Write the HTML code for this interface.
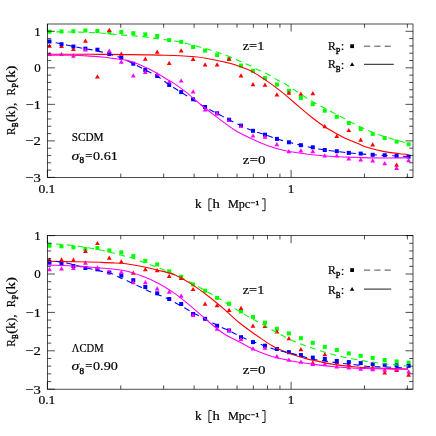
<!DOCTYPE html><html><head><meta charset="utf-8"><style>html,body{margin:0;padding:0;background:#fff}svg{display:block;will-change:transform}text{stroke:#000;stroke-width:.2px}</style></head><body><svg width="436" height="436" viewBox="0 0 436 436" font-family="Liberation Serif, serif" font-size="13" fill="#000" stroke="none">
<defs><clipPath id="clip1"><rect x="47.4" y="24.0" width="365.6" height="153.4"/></clipPath><clipPath id="clip2"><rect x="47.4" y="235.6" width="365.6" height="153.6"/></clipPath></defs>
<rect width="436" height="436" fill="#fff"/>
<g clip-path="url(#clip1)">
<g fill="#0f0"><rect x="47.5" y="29.7" width="4.0" height="4.0"/><rect x="59.5" y="29.5" width="4.0" height="4.0"/><rect x="71.4" y="29.3" width="4.0" height="4.0"/><rect x="83.4" y="28.5" width="4.0" height="4.0"/><rect x="95.4" y="29.0" width="4.0" height="4.0"/><rect x="107.3" y="30.4" width="4.0" height="4.0"/><rect x="119.3" y="30.0" width="4.0" height="4.0"/><rect x="131.3" y="31.2" width="4.0" height="4.0"/><rect x="143.3" y="32.4" width="4.0" height="4.0"/><rect x="155.2" y="34.0" width="4.0" height="4.0"/><rect x="167.2" y="38.1" width="4.0" height="4.0"/><rect x="179.2" y="39.8" width="4.0" height="4.0"/><rect x="191.1" y="45.0" width="4.0" height="4.0"/><rect x="203.1" y="48.6" width="4.0" height="4.0"/><rect x="215.1" y="53.1" width="4.0" height="4.0"/><rect x="227.1" y="57.1" width="4.0" height="4.0"/><rect x="239.0" y="63.6" width="4.0" height="4.0"/><rect x="251.0" y="68.9" width="4.0" height="4.0"/><rect x="263.0" y="76.1" width="4.0" height="4.0"/><rect x="274.9" y="82.5" width="4.0" height="4.0"/><rect x="286.9" y="88.9" width="4.0" height="4.0"/><rect x="298.9" y="96.0" width="4.0" height="4.0"/><rect x="310.8" y="102.2" width="4.0" height="4.0"/><rect x="322.8" y="108.7" width="4.0" height="4.0"/><rect x="334.8" y="114.8" width="4.0" height="4.0"/><rect x="346.8" y="121.0" width="4.0" height="4.0"/><rect x="358.7" y="127.0" width="4.0" height="4.0"/><rect x="370.7" y="131.9" width="4.0" height="4.0"/><rect x="382.7" y="136.0" width="4.0" height="4.0"/><rect x="394.6" y="139.6" width="4.0" height="4.0"/><rect x="406.6" y="142.3" width="4.0" height="4.0"/></g>
<g fill="#f00"><path d="M49.5 43.5 l2.4 4.2 h-4.8 z"/><path d="M61.5 43.8 l2.4 4.2 h-4.8 z"/><path d="M73.4 46.8 l2.4 4.2 h-4.8 z"/><path d="M85.4 38.6 l2.4 4.2 h-4.8 z"/><path d="M97.4 74.3 l2.4 4.2 h-4.8 z"/><path d="M109.3 27.8 l2.4 4.2 h-4.8 z"/><path d="M121.3 51.5 l2.4 4.2 h-4.8 z"/><path d="M145.3 56.5 l2.4 4.2 h-4.8 z"/><path d="M157.2 49.6 l2.4 4.2 h-4.8 z"/><path d="M169.2 60.8 l2.4 4.2 h-4.8 z"/><path d="M181.2 48.2 l2.4 4.2 h-4.8 z"/><path d="M193.1 56.8 l2.4 4.2 h-4.8 z"/><path d="M205.1 62.3 l2.4 4.2 h-4.8 z"/><path d="M217.1 62.3 l2.4 4.2 h-4.8 z"/><path d="M229.1 56.6 l2.4 4.2 h-4.8 z"/><path d="M241.0 73.2 l2.4 4.2 h-4.8 z"/><path d="M253.0 82.1 l2.4 4.2 h-4.8 z"/><path d="M265.0 82.5 l2.4 4.2 h-4.8 z"/><path d="M276.9 92.2 l2.4 4.2 h-4.8 z"/><path d="M288.9 90.5 l2.4 4.2 h-4.8 z"/><path d="M300.9 91.6 l2.4 4.2 h-4.8 z"/><path d="M312.8 91.0 l2.4 4.2 h-4.8 z"/><path d="M324.8 124.0 l2.4 4.2 h-4.8 z"/><path d="M336.8 133.7 l2.4 4.2 h-4.8 z"/><path d="M348.8 127.9 l2.4 4.2 h-4.8 z"/><path d="M360.7 137.5 l2.4 4.2 h-4.8 z"/><path d="M372.7 142.3 l2.4 4.2 h-4.8 z"/><path d="M396.6 162.5 l2.4 4.2 h-4.8 z"/></g>
<g fill="#00f"><rect x="47.5" y="39.5" width="4.0" height="4.0"/><rect x="59.5" y="42.2" width="4.0" height="4.0"/><rect x="71.4" y="44.5" width="4.0" height="4.0"/><rect x="83.4" y="46.6" width="4.0" height="4.0"/><rect x="95.4" y="47.7" width="4.0" height="4.0"/><rect x="107.3" y="52.0" width="4.0" height="4.0"/><rect x="119.3" y="56.0" width="4.0" height="4.0"/><rect x="131.3" y="61.7" width="4.0" height="4.0"/><rect x="143.3" y="68.0" width="4.0" height="4.0"/><rect x="155.2" y="74.0" width="4.0" height="4.0"/><rect x="167.2" y="83.0" width="4.0" height="4.0"/><rect x="179.2" y="90.1" width="4.0" height="4.0"/><rect x="191.1" y="97.3" width="4.0" height="4.0"/><rect x="203.1" y="105.0" width="4.0" height="4.0"/><rect x="215.1" y="111.3" width="4.0" height="4.0"/><rect x="227.1" y="117.7" width="4.0" height="4.0"/><rect x="239.0" y="123.6" width="4.0" height="4.0"/><rect x="251.0" y="128.8" width="4.0" height="4.0"/><rect x="263.0" y="132.7" width="4.0" height="4.0"/><rect x="274.9" y="136.9" width="4.0" height="4.0"/><rect x="286.9" y="140.3" width="4.0" height="4.0"/><rect x="298.9" y="143.2" width="4.0" height="4.0"/><rect x="310.8" y="145.3" width="4.0" height="4.0"/><rect x="322.8" y="148.0" width="4.0" height="4.0"/><rect x="334.8" y="149.2" width="4.0" height="4.0"/><rect x="346.8" y="150.9" width="4.0" height="4.0"/><rect x="358.7" y="151.6" width="4.0" height="4.0"/><rect x="370.7" y="152.8" width="4.0" height="4.0"/><rect x="382.7" y="153.2" width="4.0" height="4.0"/><rect x="394.6" y="154.0" width="4.0" height="4.0"/><rect x="406.6" y="154.6" width="4.0" height="4.0"/></g>
<g fill="#f0f"><path d="M49.5 51.9 l2.4 4.2 h-4.8 z"/><path d="M61.5 51.9 l2.4 4.2 h-4.8 z"/><path d="M73.4 53.6 l2.4 4.2 h-4.8 z"/><path d="M85.4 47.3 l2.4 4.2 h-4.8 z"/><path d="M109.3 48.5 l2.4 4.2 h-4.8 z"/><path d="M121.3 59.5 l2.4 4.2 h-4.8 z"/><path d="M133.3 73.3 l2.4 4.2 h-4.8 z"/><path d="M145.3 69.7 l2.4 4.2 h-4.8 z"/><path d="M157.2 72.1 l2.4 4.2 h-4.8 z"/><path d="M169.2 79.4 l2.4 4.2 h-4.8 z"/><path d="M181.2 78.4 l2.4 4.2 h-4.8 z"/><path d="M193.1 89.3 l2.4 4.2 h-4.8 z"/><path d="M205.1 107.3 l2.4 4.2 h-4.8 z"/><path d="M217.1 111.1 l2.4 4.2 h-4.8 z"/><path d="M229.1 117.5 l2.4 4.2 h-4.8 z"/><path d="M241.0 123.3 l2.4 4.2 h-4.8 z"/><path d="M253.0 133.4 l2.4 4.2 h-4.8 z"/><path d="M265.0 134.5 l2.4 4.2 h-4.8 z"/><path d="M276.9 142.1 l2.4 4.2 h-4.8 z"/><path d="M288.9 149.0 l2.4 4.2 h-4.8 z"/><path d="M300.9 148.3 l2.4 4.2 h-4.8 z"/><path d="M312.8 149.0 l2.4 4.2 h-4.8 z"/><path d="M324.8 153.2 l2.4 4.2 h-4.8 z"/><path d="M336.8 153.2 l2.4 4.2 h-4.8 z"/><path d="M348.8 156.2 l2.4 4.2 h-4.8 z"/><path d="M360.7 157.3 l2.4 4.2 h-4.8 z"/><path d="M372.7 158.3 l2.4 4.2 h-4.8 z"/><path d="M384.7 161.1 l2.4 4.2 h-4.8 z"/><path d="M396.6 165.8 l2.4 4.2 h-4.8 z"/><path d="M408.6 158.1 l2.4 4.2 h-4.8 z"/></g>
<path d="M47.4 31.8C51.2 31.8 62.9 31.9 70.0 32.0C77.1 32.1 85.0 32.3 90.0 32.5C95.0 32.7 96.3 32.7 100.0 33.0C103.7 33.3 108.5 33.8 112.0 34.1C115.5 34.4 117.8 34.6 121.0 34.9C124.2 35.2 127.5 35.4 131.0 35.7C134.5 36.0 138.5 36.2 142.0 36.6C145.5 37.0 148.7 37.5 152.0 38.0C155.3 38.5 158.2 38.8 162.0 39.3C165.8 39.8 170.8 40.3 175.0 41.0C179.2 41.7 183.2 42.7 187.3 43.7C191.4 44.7 195.7 45.9 199.6 47.0C203.5 48.1 207.2 49.1 210.9 50.2C214.7 51.4 218.4 52.5 222.1 53.9C225.8 55.2 230.3 57.1 233.3 58.3C236.3 59.5 237.3 60.0 240.1 61.2C242.9 62.4 246.7 64.1 249.9 65.6C253.1 67.1 256.3 68.9 259.4 70.4C262.5 71.9 265.4 73.0 268.4 74.6C271.3 76.1 274.2 78.0 277.1 79.7C280.0 81.4 283.0 82.7 286.0 84.5C289.0 86.3 290.8 87.7 295.0 90.4C299.2 93.1 305.6 97.5 311.0 100.7C316.4 103.9 321.7 106.5 327.1 109.4C332.5 112.3 338.3 115.3 343.2 117.9C348.1 120.5 352.6 122.9 356.7 125.0C360.8 127.1 364.2 128.8 368.0 130.4C371.8 132.1 375.1 133.3 379.7 134.9C384.2 136.5 390.5 138.4 395.3 139.8C400.1 141.2 406.4 142.9 408.6 143.5" fill="none" stroke="#0f0" stroke-width="1.10" stroke-dasharray="6.1 4.64" stroke-dashoffset="1.5"/>
<path d="M47.4 54.2C54.5 54.2 76.2 54.2 90.0 54.3C103.8 54.4 120.0 54.5 130.0 54.6C140.0 54.7 144.2 54.8 150.0 54.9C155.8 55.0 160.0 55.1 165.0 55.3C170.0 55.4 175.0 55.5 180.0 55.8C185.0 56.0 190.7 56.4 195.0 56.8C199.3 57.2 201.5 57.5 206.0 58.3C210.5 59.1 217.3 60.4 222.1 61.5C226.9 62.6 230.2 63.2 235.0 64.8C239.8 66.4 245.7 68.2 251.0 70.9C256.4 73.6 261.7 77.4 267.1 81.1C272.5 84.8 277.9 88.8 283.2 93.1C288.5 97.4 294.6 103.0 299.2 106.9C303.8 110.8 306.4 113.1 311.0 116.7C315.6 120.3 321.7 124.9 327.1 128.3C332.5 131.7 337.9 134.6 343.2 137.2C348.5 139.8 355.4 142.4 359.2 144.1C363.0 145.8 362.2 145.9 366.0 147.1C369.8 148.3 376.7 150.0 382.1 151.1C387.5 152.2 393.8 152.9 398.2 153.5C402.6 154.1 406.9 154.3 408.6 154.5" fill="none" stroke="#f00" stroke-width="1.10"/>
<path d="M47.4 41.3C49.7 41.7 56.7 42.9 61.0 43.8C65.3 44.6 69.0 45.6 73.0 46.4C77.0 47.2 81.0 48.0 85.0 48.7C89.0 49.4 93.0 49.9 97.0 50.8C101.0 51.7 105.0 52.7 109.0 53.9C113.0 55.1 117.0 56.2 121.0 57.8C125.0 59.4 129.0 61.6 133.0 63.6C137.0 65.6 141.0 67.7 145.0 69.8C149.0 71.9 153.0 73.5 157.0 76.0C161.0 78.5 165.0 81.8 169.0 84.5C173.0 87.2 177.0 89.7 181.0 92.2C185.0 94.7 189.0 97.1 193.0 99.6C197.0 102.1 201.0 104.9 205.0 107.2C209.0 109.5 213.0 111.2 217.0 113.3C221.0 115.4 225.0 117.8 229.0 119.8C233.0 121.8 237.0 123.8 241.0 125.6C245.0 127.4 249.0 129.3 253.0 130.8C257.0 132.3 261.0 133.3 265.0 134.7C269.0 136.0 273.0 137.6 277.0 138.9C281.0 140.2 285.0 141.2 289.0 142.3C293.0 143.4 295.7 144.0 301.0 145.2C306.3 146.4 313.5 148.1 320.6 149.3C327.7 150.5 335.5 151.4 343.5 152.3C351.5 153.2 357.9 153.8 368.8 154.5C379.7 155.2 402.0 156.2 408.6 156.5" fill="none" stroke="#00f" stroke-width="1.10" stroke-dasharray="6 4.6" stroke-dashoffset="2.3"/>
<path d="M47.4 55.1C51.2 55.1 62.9 55.1 70.0 55.3C77.1 55.5 84.2 55.8 90.0 56.1C95.8 56.4 101.2 56.9 105.0 57.3C108.8 57.7 109.3 57.9 112.8 58.4C116.3 58.9 122.5 59.4 126.0 60.1C129.5 60.8 131.3 61.7 134.0 62.6C136.7 63.5 139.3 64.5 142.0 65.7C144.7 66.9 147.3 68.2 150.0 69.5C152.7 70.8 155.3 72.2 158.0 73.8C160.7 75.3 163.3 77.2 166.0 78.8C168.7 80.4 170.7 81.2 174.0 83.4C177.3 85.6 181.3 88.4 186.0 92.1C190.7 95.8 196.7 101.4 202.1 105.7C207.5 110.0 212.7 114.0 218.2 118.1C223.7 122.2 229.5 126.8 235.0 130.2C240.5 133.6 245.7 136.0 251.0 138.5C256.4 141.0 261.7 143.5 267.1 145.4C272.5 147.3 277.9 148.9 283.2 150.2C288.5 151.5 293.1 152.1 299.2 153.0C305.3 153.9 313.4 154.9 320.0 155.5C326.6 156.1 332.0 156.5 339.0 156.8C346.0 157.2 354.3 157.4 361.9 157.6C369.5 157.8 377.0 158.0 384.8 158.0C392.6 158.0 404.6 157.7 408.6 157.6" fill="none" stroke="#f0f" stroke-width="1.10"/>
</g>
<path d="M47.4 177.40h7.5M413.0 177.40h-7.5M47.4 170.10h3.8M413.0 170.10h-3.8M47.4 162.79h3.8M413.0 162.79h-3.8M47.4 155.49h3.8M413.0 155.49h-3.8M47.4 148.18h3.8M413.0 148.18h-3.8M47.4 140.88h7.5M413.0 140.88h-7.5M47.4 133.57h3.8M413.0 133.57h-3.8M47.4 126.27h3.8M413.0 126.27h-3.8M47.4 118.96h3.8M413.0 118.96h-3.8M47.4 111.66h3.8M413.0 111.66h-3.8M47.4 104.35h7.5M413.0 104.35h-7.5M47.4 97.05h3.8M413.0 97.05h-3.8M47.4 89.74h3.8M413.0 89.74h-3.8M47.4 82.44h3.8M413.0 82.44h-3.8M47.4 75.13h3.8M413.0 75.13h-3.8M47.4 67.83h7.5M413.0 67.83h-7.5M47.4 60.52h3.8M413.0 60.52h-3.8M47.4 53.22h3.8M413.0 53.22h-3.8M47.4 45.91h3.8M413.0 45.91h-3.8M47.4 38.61h3.8M413.0 38.61h-3.8M47.4 31.30h7.5M413.0 31.30h-7.5M47.40 177.4v-7.5M47.40 24.0v7.5M120.76 177.4v-3.8M120.76 24.0v3.8M163.67 177.4v-3.8M163.67 24.0v3.8M194.12 177.4v-3.8M194.12 24.0v3.8M217.74 177.4v-3.8M217.74 24.0v3.8M237.04 177.4v-3.8M237.04 24.0v3.8M253.35 177.4v-3.8M253.35 24.0v3.8M267.48 177.4v-3.8M267.48 24.0v3.8M279.95 177.4v-3.8M279.95 24.0v3.8M291.10 177.4v-7.5M291.10 24.0v7.5M364.46 177.4v-3.8M364.46 24.0v3.8M407.37 177.4v-3.8M407.37 24.0v3.8" stroke="#000" stroke-width="0.7" fill="none"/>
<rect x="47.4" y="24.0" width="365.6" height="153.4" fill="none" stroke="#000" stroke-width="0.7"/>
<text x="40.8" y="35.7" text-anchor="end">1</text><text x="40.8" y="72.2" text-anchor="end">0</text><text x="40.8" y="108.7" textLength="15.2" lengthAdjust="spacingAndGlyphs" text-anchor="end">−1</text><text x="40.8" y="145.2" textLength="15.6" lengthAdjust="spacingAndGlyphs" text-anchor="end">−2</text><text x="40.8" y="181.8" textLength="15.6" lengthAdjust="spacingAndGlyphs" text-anchor="end">−3</text><text x="38.4" y="192.6" textLength="17.0" lengthAdjust="spacingAndGlyphs">0.1</text><text x="287.8" y="192.6">1</text><text x="195.0" y="208.4" textLength="6.6" lengthAdjust="spacingAndGlyphs">k</text><text x="212.6" y="208.4" textLength="7.3" lengthAdjust="spacingAndGlyphs">h</text><text x="227.9" y="208.4" textLength="22.4" lengthAdjust="spacingAndGlyphs">Mpc</text><text x="250.7" y="204.8" textLength="8.8" lengthAdjust="spacingAndGlyphs" font-size="6.5" style="stroke-width:.4px">−1</text><path d="M211.9 198.8H208.9V210.7H211.9M262.0 198.8H265.0V210.7H262.0" fill="none" stroke="#000" stroke-width="0.9"/><g transform="translate(14.8,100.7) rotate(-90)"><text x="-34.3" y="0.0" textLength="7.6" lengthAdjust="spacingAndGlyphs">R</text><text x="-26.6" y="3.1" textLength="4.8" lengthAdjust="spacingAndGlyphs" font-size="8.5" style="stroke-width:.4px">B</text><text x="-21.3" y="0.0" textLength="19.5" lengthAdjust="spacingAndGlyphs">(k),</text><text x="5.2" y="0.0" textLength="7.6" lengthAdjust="spacingAndGlyphs">R</text><text x="12.9" y="3.1" textLength="4.6" lengthAdjust="spacingAndGlyphs" font-size="8.5" style="stroke-width:.4px">P</text><text x="18.0" y="0.0" textLength="17.2" lengthAdjust="spacingAndGlyphs">(k)</text></g>
<g clip-path="url(#clip2)">
<g fill="#0f0"><rect x="47.5" y="243.7" width="4.0" height="4.0"/><rect x="59.5" y="244.3" width="4.0" height="4.0"/><rect x="71.4" y="245.4" width="4.0" height="4.0"/><rect x="83.4" y="247.0" width="4.0" height="4.0"/><rect x="95.4" y="246.0" width="4.0" height="4.0"/><rect x="107.3" y="248.4" width="4.0" height="4.0"/><rect x="119.3" y="250.4" width="4.0" height="4.0"/><rect x="131.3" y="254.1" width="4.0" height="4.0"/><rect x="143.3" y="258.9" width="4.0" height="4.0"/><rect x="155.2" y="262.4" width="4.0" height="4.0"/><rect x="167.2" y="269.4" width="4.0" height="4.0"/><rect x="179.2" y="274.7" width="4.0" height="4.0"/><rect x="191.1" y="282.5" width="4.0" height="4.0"/><rect x="203.1" y="288.7" width="4.0" height="4.0"/><rect x="215.1" y="295.9" width="4.0" height="4.0"/><rect x="227.1" y="301.6" width="4.0" height="4.0"/><rect x="239.0" y="309.4" width="4.0" height="4.0"/><rect x="251.0" y="314.9" width="4.0" height="4.0"/><rect x="263.0" y="320.6" width="4.0" height="4.0"/><rect x="274.9" y="326.8" width="4.0" height="4.0"/><rect x="286.9" y="331.4" width="4.0" height="4.0"/><rect x="298.9" y="336.2" width="4.0" height="4.0"/><rect x="310.8" y="340.8" width="4.0" height="4.0"/><rect x="322.8" y="344.9" width="4.0" height="4.0"/><rect x="334.8" y="348.0" width="4.0" height="4.0"/><rect x="346.8" y="351.4" width="4.0" height="4.0"/><rect x="358.7" y="353.8" width="4.0" height="4.0"/><rect x="370.7" y="355.9" width="4.0" height="4.0"/><rect x="382.7" y="358.0" width="4.0" height="4.0"/><rect x="394.6" y="359.4" width="4.0" height="4.0"/><rect x="406.6" y="360.6" width="4.0" height="4.0"/></g>
<g fill="#f00"><path d="M49.5 257.5 l2.4 4.2 h-4.8 z"/><path d="M61.5 257.3 l2.4 4.2 h-4.8 z"/><path d="M73.4 257.5 l2.4 4.2 h-4.8 z"/><path d="M85.4 248.8 l2.4 4.2 h-4.8 z"/><path d="M97.4 240.9 l2.4 4.2 h-4.8 z"/><path d="M109.3 255.5 l2.4 4.2 h-4.8 z"/><path d="M121.3 259.2 l2.4 4.2 h-4.8 z"/><path d="M133.3 270.5 l2.4 4.2 h-4.8 z"/><path d="M145.3 267.1 l2.4 4.2 h-4.8 z"/><path d="M157.2 268.0 l2.4 4.2 h-4.8 z"/><path d="M169.2 273.7 l2.4 4.2 h-4.8 z"/><path d="M181.2 275.7 l2.4 4.2 h-4.8 z"/><path d="M193.1 286.9 l2.4 4.2 h-4.8 z"/><path d="M205.1 301.5 l2.4 4.2 h-4.8 z"/><path d="M217.1 303.0 l2.4 4.2 h-4.8 z"/><path d="M229.1 307.8 l2.4 4.2 h-4.8 z"/><path d="M241.0 305.8 l2.4 4.2 h-4.8 z"/><path d="M253.0 323.5 l2.4 4.2 h-4.8 z"/><path d="M265.0 323.7 l2.4 4.2 h-4.8 z"/><path d="M276.9 329.3 l2.4 4.2 h-4.8 z"/><path d="M288.9 336.0 l2.4 4.2 h-4.8 z"/><path d="M300.9 347.1 l2.4 4.2 h-4.8 z"/><path d="M312.8 360.2 l2.4 4.2 h-4.8 z"/><path d="M324.8 352.0 l2.4 4.2 h-4.8 z"/><path d="M336.8 360.0 l2.4 4.2 h-4.8 z"/><path d="M348.8 362.0 l2.4 4.2 h-4.8 z"/><path d="M372.7 365.5 l2.4 4.2 h-4.8 z"/><path d="M384.7 370.2 l2.4 4.2 h-4.8 z"/><path d="M396.6 367.9 l2.4 4.2 h-4.8 z"/><path d="M408.6 372.5 l2.4 4.2 h-4.8 z"/></g>
<g fill="#00f"><rect x="47.5" y="260.7" width="4.0" height="4.0"/><rect x="59.5" y="261.7" width="4.0" height="4.0"/><rect x="71.4" y="264.0" width="4.0" height="4.0"/><rect x="83.4" y="266.0" width="4.0" height="4.0"/><rect x="95.4" y="267.3" width="4.0" height="4.0"/><rect x="107.3" y="270.5" width="4.0" height="4.0"/><rect x="119.3" y="273.6" width="4.0" height="4.0"/><rect x="131.3" y="278.2" width="4.0" height="4.0"/><rect x="143.3" y="285.0" width="4.0" height="4.0"/><rect x="155.2" y="291.3" width="4.0" height="4.0"/><rect x="167.2" y="297.0" width="4.0" height="4.0"/><rect x="179.2" y="302.0" width="4.0" height="4.0"/><rect x="191.1" y="312.0" width="4.0" height="4.0"/><rect x="203.1" y="316.8" width="4.0" height="4.0"/><rect x="215.1" y="323.8" width="4.0" height="4.0"/><rect x="227.1" y="328.5" width="4.0" height="4.0"/><rect x="239.0" y="335.2" width="4.0" height="4.0"/><rect x="251.0" y="340.1" width="4.0" height="4.0"/><rect x="263.0" y="343.7" width="4.0" height="4.0"/><rect x="274.9" y="347.0" width="4.0" height="4.0"/><rect x="286.9" y="350.2" width="4.0" height="4.0"/><rect x="298.9" y="353.1" width="4.0" height="4.0"/><rect x="310.8" y="355.6" width="4.0" height="4.0"/><rect x="322.8" y="357.0" width="4.0" height="4.0"/><rect x="334.8" y="358.9" width="4.0" height="4.0"/><rect x="346.8" y="360.1" width="4.0" height="4.0"/><rect x="358.7" y="361.1" width="4.0" height="4.0"/><rect x="370.7" y="362.3" width="4.0" height="4.0"/><rect x="382.7" y="362.8" width="4.0" height="4.0"/><rect x="394.6" y="363.4" width="4.0" height="4.0"/><rect x="406.6" y="363.9" width="4.0" height="4.0"/></g>
<g fill="#f0f"><path d="M49.5 267.0 l2.4 4.2 h-4.8 z"/><path d="M61.5 266.3 l2.4 4.2 h-4.8 z"/><path d="M73.4 265.9 l2.4 4.2 h-4.8 z"/><path d="M85.4 260.5 l2.4 4.2 h-4.8 z"/><path d="M97.4 265.3 l2.4 4.2 h-4.8 z"/><path d="M109.3 269.8 l2.4 4.2 h-4.8 z"/><path d="M121.3 269.7 l2.4 4.2 h-4.8 z"/><path d="M133.3 280.0 l2.4 4.2 h-4.8 z"/><path d="M145.3 280.0 l2.4 4.2 h-4.8 z"/><path d="M157.2 286.2 l2.4 4.2 h-4.8 z"/><path d="M169.2 289.6 l2.4 4.2 h-4.8 z"/><path d="M181.2 293.5 l2.4 4.2 h-4.8 z"/><path d="M193.1 312.8 l2.4 4.2 h-4.8 z"/><path d="M217.1 326.5 l2.4 4.2 h-4.8 z"/><path d="M229.1 327.9 l2.4 4.2 h-4.8 z"/><path d="M241.0 336.8 l2.4 4.2 h-4.8 z"/><path d="M253.0 346.3 l2.4 4.2 h-4.8 z"/><path d="M265.0 345.6 l2.4 4.2 h-4.8 z"/><path d="M276.9 354.0 l2.4 4.2 h-4.8 z"/><path d="M288.9 357.5 l2.4 4.2 h-4.8 z"/><path d="M300.9 359.5 l2.4 4.2 h-4.8 z"/><path d="M312.8 361.9 l2.4 4.2 h-4.8 z"/><path d="M324.8 361.5 l2.4 4.2 h-4.8 z"/><path d="M336.8 364.3 l2.4 4.2 h-4.8 z"/><path d="M348.8 365.3 l2.4 4.2 h-4.8 z"/><path d="M360.7 366.5 l2.4 4.2 h-4.8 z"/><path d="M372.7 367.0 l2.4 4.2 h-4.8 z"/><path d="M384.7 367.5 l2.4 4.2 h-4.8 z"/><path d="M396.6 366.7 l2.4 4.2 h-4.8 z"/><path d="M408.6 369.3 l2.4 4.2 h-4.8 z"/></g>
<path d="M47.4 243.1C48.4 243.2 51.6 243.4 53.6 243.6C55.6 243.8 56.8 243.9 59.6 244.2C62.4 244.5 67.0 244.8 70.5 245.2C74.0 245.6 77.1 246.0 80.5 246.5C83.9 247.0 87.5 247.7 91.0 248.3C94.5 248.9 98.3 249.6 101.8 250.3C105.3 251.0 108.8 251.9 112.0 252.7C115.2 253.5 117.8 254.4 121.3 255.3C124.8 256.2 129.3 257.1 133.3 258.4C137.3 259.7 141.3 261.5 145.3 263.0C149.3 264.5 153.2 265.8 157.2 267.3C161.2 268.8 165.6 270.6 169.2 272.1C172.8 273.7 175.5 275.0 179.0 276.6C182.5 278.2 186.3 280.1 190.0 282.0C193.7 283.9 197.0 285.9 201.0 288.2C205.0 290.4 210.1 293.4 213.8 295.5C217.5 297.6 219.5 298.8 223.2 301.1C226.8 303.4 231.4 306.5 235.7 309.1C240.0 311.7 245.0 314.7 248.8 316.9C252.6 319.1 255.2 320.3 258.5 322.2C261.9 324.1 265.6 326.2 268.9 328.1C272.2 330.0 275.1 331.6 278.5 333.4C281.9 335.2 285.0 337.1 289.0 339.0C293.0 340.9 298.5 343.1 302.4 344.6C306.3 346.1 309.0 347.0 312.5 348.2C316.0 349.4 319.8 350.7 323.3 351.8C326.8 352.9 330.2 353.8 333.7 354.7C337.2 355.6 340.6 356.4 344.1 357.2C347.6 357.9 351.4 358.5 354.9 359.2C358.4 359.9 361.9 360.6 365.0 361.1C368.1 361.6 370.4 361.8 373.3 362.2C376.2 362.6 378.8 363.1 382.1 363.5C385.4 363.9 388.7 364.2 393.0 364.6C397.3 365.0 405.5 365.8 408.0 366.0" fill="none" stroke="#0f0" stroke-width="1.10" stroke-dasharray="6.05 4.59" stroke-dashoffset="1.5"/>
<path d="M47.4 261.3C52.2 261.4 67.2 261.6 76.0 261.8C84.8 262.0 93.7 262.1 100.0 262.3C106.3 262.5 109.7 262.6 114.0 262.9C118.3 263.1 121.3 263.2 126.0 263.8C130.7 264.4 136.7 265.4 142.1 266.5C147.5 267.6 152.7 268.8 158.2 270.2C163.7 271.6 169.5 272.7 175.0 275.0C180.5 277.3 185.7 280.5 191.0 283.9C196.3 287.3 201.7 291.1 207.1 295.2C212.5 299.3 217.7 303.6 223.2 308.3C228.7 313.0 234.5 318.9 240.0 323.3C245.5 327.8 250.7 331.3 256.0 335.0C261.4 338.7 266.7 342.7 272.1 345.7C277.5 348.7 282.9 350.9 288.2 353.0C293.5 355.1 299.6 356.8 304.2 358.1C308.8 359.4 311.4 359.9 316.0 360.9C320.6 361.9 326.7 363.2 332.1 364.1C337.5 365.0 342.9 365.6 348.2 366.2C353.5 366.8 358.1 367.1 364.2 367.5C370.3 367.9 377.5 368.1 384.8 368.3C392.1 368.6 404.1 368.9 408.0 369.0" fill="none" stroke="#f00" stroke-width="1.10"/>
<path d="M47.4 260.0C49.5 260.3 56.1 261.3 60.0 262.0C63.9 262.7 67.5 263.2 71.0 264.0C74.5 264.8 77.4 265.7 81.0 266.6C84.6 267.5 89.0 268.5 92.5 269.3C96.0 270.1 98.9 270.7 102.0 271.4C105.1 272.1 108.1 272.3 111.0 273.3C113.9 274.3 116.7 276.0 119.6 277.4C122.5 278.8 125.2 279.9 128.5 281.4C131.8 282.9 135.8 284.8 139.3 286.5C142.8 288.2 145.0 289.6 149.3 291.4C153.7 293.2 160.9 295.5 165.4 297.5C169.9 299.5 172.1 301.0 176.6 303.5C181.1 306.0 188.4 310.0 192.7 312.4C197.0 314.8 199.4 316.3 202.6 318.0C205.8 319.7 208.9 321.0 211.9 322.5C214.9 324.0 217.5 325.5 220.3 326.8C223.1 328.1 226.2 329.2 228.8 330.5C231.4 331.8 232.8 332.8 236.0 334.3C239.2 335.9 244.3 338.3 248.0 339.8C251.7 341.3 254.7 342.1 258.0 343.3C261.4 344.5 264.1 345.9 268.1 347.2C272.1 348.5 277.2 350.1 282.0 351.3C286.8 352.6 292.7 353.6 297.0 354.7C301.3 355.8 304.7 357.1 307.9 358.0C311.1 358.9 313.2 359.2 316.4 359.8C319.6 360.4 322.4 360.7 327.3 361.4C332.2 362.1 340.8 363.2 345.7 363.8C350.6 364.4 352.8 364.4 356.5 364.9C360.2 365.3 363.5 366.1 368.2 366.5C372.9 366.9 378.2 366.8 384.8 367.0C391.4 367.2 404.1 367.8 408.0 368.0" fill="none" stroke="#00f" stroke-width="1.10" stroke-dasharray="6 4.6" stroke-dashoffset="2.3"/>
<path d="M47.4 265.0C52.2 265.2 68.6 265.7 76.0 266.1C83.4 266.5 86.3 266.8 92.0 267.2C97.7 267.6 104.3 268.2 110.0 268.8C115.7 269.4 120.7 269.8 126.0 271.0C131.3 272.2 136.7 274.1 142.1 276.1C147.5 278.2 152.7 280.4 158.2 283.3C163.7 286.2 169.5 289.8 175.0 293.6C180.5 297.5 185.7 301.9 191.0 306.4C196.3 310.9 201.7 315.9 207.1 320.4C212.5 324.9 217.7 329.5 223.2 333.2C228.7 336.9 234.5 339.4 240.0 342.3C245.5 345.2 250.7 348.2 256.0 350.6C261.4 353.0 266.7 354.9 272.1 356.5C277.5 358.1 282.9 359.1 288.2 360.2C293.5 361.3 299.6 362.3 304.2 363.0C308.8 363.7 311.4 364.0 316.0 364.6C320.6 365.2 326.7 366.0 332.1 366.5C337.5 367.0 342.9 367.5 348.2 367.8C353.5 368.1 358.1 368.3 364.2 368.5C370.3 368.7 377.5 368.9 384.8 369.0C392.1 369.1 404.1 369.2 408.0 369.3" fill="none" stroke="#f0f" stroke-width="1.10"/>
</g>
<path d="M47.4 389.20h7.5M413.0 389.20h-7.5M47.4 381.52h3.8M413.0 381.52h-3.8M47.4 373.84h3.8M413.0 373.84h-3.8M47.4 366.16h3.8M413.0 366.16h-3.8M47.4 358.48h3.8M413.0 358.48h-3.8M47.4 350.80h7.5M413.0 350.80h-7.5M47.4 343.12h3.8M413.0 343.12h-3.8M47.4 335.44h3.8M413.0 335.44h-3.8M47.4 327.76h3.8M413.0 327.76h-3.8M47.4 320.08h3.8M413.0 320.08h-3.8M47.4 312.40h7.5M413.0 312.40h-7.5M47.4 304.72h3.8M413.0 304.72h-3.8M47.4 297.04h3.8M413.0 297.04h-3.8M47.4 289.36h3.8M413.0 289.36h-3.8M47.4 281.68h3.8M413.0 281.68h-3.8M47.4 274.00h7.5M413.0 274.00h-7.5M47.4 266.32h3.8M413.0 266.32h-3.8M47.4 258.64h3.8M413.0 258.64h-3.8M47.4 250.96h3.8M413.0 250.96h-3.8M47.4 243.28h3.8M413.0 243.28h-3.8M47.4 235.60h7.5M413.0 235.60h-7.5M47.40 389.2v-7.5M47.40 235.6v7.5M120.76 389.2v-3.8M120.76 235.6v3.8M163.67 389.2v-3.8M163.67 235.6v3.8M194.12 389.2v-3.8M194.12 235.6v3.8M217.74 389.2v-3.8M217.74 235.6v3.8M237.04 389.2v-3.8M237.04 235.6v3.8M253.35 389.2v-3.8M253.35 235.6v3.8M267.48 389.2v-3.8M267.48 235.6v3.8M279.95 389.2v-3.8M279.95 235.6v3.8M291.10 389.2v-7.5M291.10 235.6v7.5M364.46 389.2v-3.8M364.46 235.6v3.8M407.37 389.2v-3.8M407.37 235.6v3.8" stroke="#000" stroke-width="0.7" fill="none"/>
<rect x="47.4" y="235.6" width="365.6" height="153.6" fill="none" stroke="#000" stroke-width="0.7"/>
<text x="40.8" y="239.9" text-anchor="end">1</text><text x="40.8" y="278.4" text-anchor="end">0</text><text x="40.8" y="316.8" textLength="15.2" lengthAdjust="spacingAndGlyphs" text-anchor="end">−1</text><text x="40.8" y="355.2" textLength="15.6" lengthAdjust="spacingAndGlyphs" text-anchor="end">−2</text><text x="40.8" y="393.6" textLength="15.6" lengthAdjust="spacingAndGlyphs" text-anchor="end">−3</text><text x="38.4" y="404.4" textLength="17.0" lengthAdjust="spacingAndGlyphs">0.1</text><text x="287.8" y="404.4">1</text><text x="195.0" y="420.2" textLength="6.6" lengthAdjust="spacingAndGlyphs">k</text><text x="212.6" y="420.2" textLength="7.3" lengthAdjust="spacingAndGlyphs">h</text><text x="227.9" y="420.2" textLength="22.4" lengthAdjust="spacingAndGlyphs">Mpc</text><text x="250.7" y="416.6" textLength="8.8" lengthAdjust="spacingAndGlyphs" font-size="6.5" style="stroke-width:.4px">−1</text><path d="M211.9 410.6H208.9V422.5H211.9M262.0 410.6H265.0V422.5H262.0" fill="none" stroke="#000" stroke-width="0.9"/><g transform="translate(14.8,312.4) rotate(-90)"><text x="-34.3" y="0.0" textLength="7.6" lengthAdjust="spacingAndGlyphs">R</text><text x="-26.6" y="3.1" textLength="4.8" lengthAdjust="spacingAndGlyphs" font-size="8.5" style="stroke-width:.4px">B</text><text x="-21.3" y="0.0" textLength="19.5" lengthAdjust="spacingAndGlyphs">(k),</text><text x="5.2" y="0.0" textLength="7.6" lengthAdjust="spacingAndGlyphs">R</text><text x="12.9" y="3.1" textLength="4.6" lengthAdjust="spacingAndGlyphs" font-size="8.5" style="stroke-width:.4px">P</text><text x="18.0" y="0.0" textLength="17.2" lengthAdjust="spacingAndGlyphs">(k)</text></g>
<text x="328.0" y="49.8" textLength="7.8" lengthAdjust="spacingAndGlyphs">R</text><text x="335.7" y="53.8" textLength="4.6" lengthAdjust="spacingAndGlyphs" font-size="8.5" style="stroke-width:.4px">P</text><text x="340.7" y="50.1">:</text><rect x="350.2" y="44.3" width="3.8" height="3.8"/><path d="M364 46.2H391" stroke="#000" stroke-width="0.7" stroke-dasharray="6.2 4.1"/><text x="328.0" y="68.2" textLength="7.8" lengthAdjust="spacingAndGlyphs">R</text><text x="335.7" y="72.2" textLength="4.8" lengthAdjust="spacingAndGlyphs" font-size="8.5" style="stroke-width:.4px">B</text><text x="340.7" y="68.5">:</text><path d="M352.1 62.3l2.2 3.7h-4.4z"/><path d="M364 64.3H393.8" stroke="#000" stroke-width="0.9"/>
<text x="328.0" y="274.2" textLength="7.8" lengthAdjust="spacingAndGlyphs">R</text><text x="335.7" y="278.2" textLength="4.6" lengthAdjust="spacingAndGlyphs" font-size="8.5" style="stroke-width:.4px">P</text><text x="340.7" y="274.5">:</text><rect x="350.2" y="268.2" width="3.8" height="3.8"/><path d="M364 270.1H391" stroke="#000" stroke-width="0.7" stroke-dasharray="6.2 4.1"/><text x="328.0" y="293.7" textLength="7.8" lengthAdjust="spacingAndGlyphs">R</text><text x="335.7" y="297.7" textLength="4.8" lengthAdjust="spacingAndGlyphs" font-size="8.5" style="stroke-width:.4px">B</text><text x="340.7" y="294.0">:</text><path d="M352.1 287.1l2.2 3.7h-4.4z"/><path d="M364 289.1H391.2" stroke="#000" stroke-width="0.9"/>
<text x="242.8" y="50.2" textLength="21.5" lengthAdjust="spacingAndGlyphs">z=1</text><text x="242.8" y="163.9" textLength="22.6" lengthAdjust="spacingAndGlyphs">z=0</text>
<text x="242.8" y="294.0" textLength="21.5" lengthAdjust="spacingAndGlyphs">z=1</text><text x="242.8" y="374.4" textLength="22.6" lengthAdjust="spacingAndGlyphs">z=0</text>
<text x="71.8" y="141.4" textLength="31.8" lengthAdjust="spacingAndGlyphs">SCDM</text><text x="71.6" y="159.5" textLength="7.8" lengthAdjust="spacingAndGlyphs" font-style="italic">σ</text><text x="79.5" y="163.3" textLength="4.6" lengthAdjust="spacingAndGlyphs" font-size="8.5" style="stroke-width:.4px">8</text><text x="85.2" y="159.5" textLength="7.2" lengthAdjust="spacingAndGlyphs">=</text><text x="93.0" y="159.5" textLength="24.8" lengthAdjust="spacingAndGlyphs">0.61</text>
<text x="71.8" y="351.9" textLength="31.8" lengthAdjust="spacingAndGlyphs">ΛCDM</text><text x="71.6" y="370.0" textLength="7.8" lengthAdjust="spacingAndGlyphs" font-style="italic">σ</text><text x="79.5" y="373.8" textLength="4.6" lengthAdjust="spacingAndGlyphs" font-size="8.5" style="stroke-width:.4px">8</text><text x="85.2" y="370.0" textLength="7.2" lengthAdjust="spacingAndGlyphs">=</text><text x="93.0" y="370.0" textLength="24.8" lengthAdjust="spacingAndGlyphs">0.90</text>
</svg></body></html>
